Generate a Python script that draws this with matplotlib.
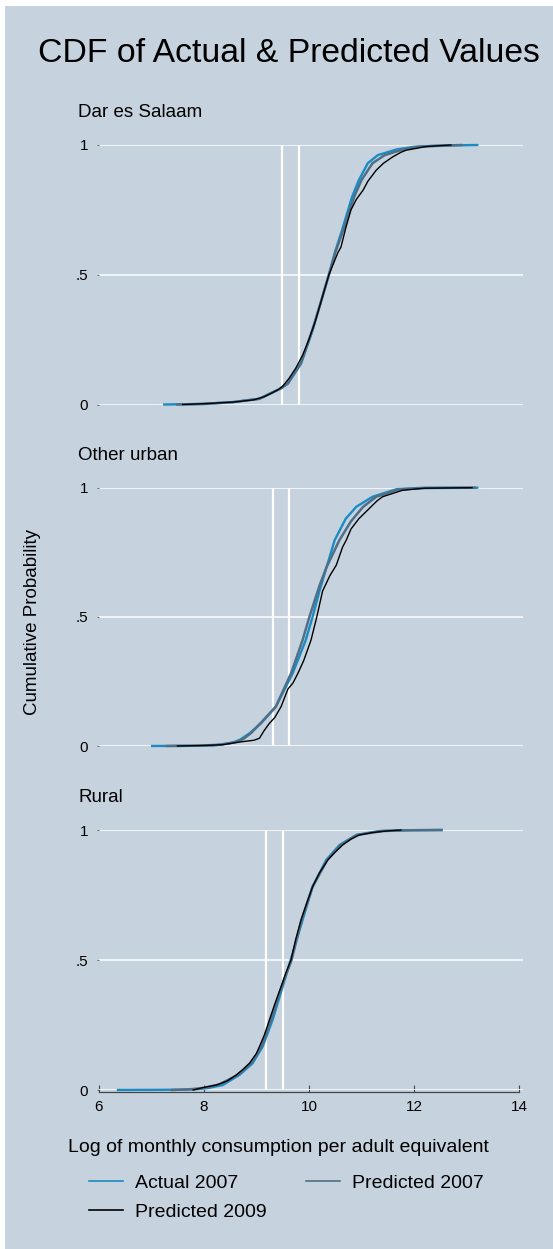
import matplotlib
matplotlib.use('Agg')
import matplotlib.pyplot as plt
from matplotlib.lines import Line2D
from matplotlib.patches import Rectangle

plt.rcParams['font.family'] = ['Liberation Sans', 'DejaVu Sans']

# region names and poverty lines (food, basic needs), log scale
regions = ['Dar es Salaam', 'Other urban', 'Rural']
pov_lines = [[9.49, 9.81], [9.31, 9.62], [9.19, 9.50]]

# CDF points: x = log consumption, y = cumulative probability
# Dar es Salaam
dar_act07_x = [7.25, 7.9, 8.55, 9.06, 9.25, 9.45, 9.6, 9.85, 10.07, 10.22, 10.38, 10.5, 10.63,
               10.82, 10.95, 11.12, 11.31, 11.67, 12.0, 12.5, 13.2]
dar_act07_y = [0, 0.002, 0.009, 0.022, 0.041, 0.06, 0.08, 0.157, 0.286, 0.39, 0.5, 0.59, 0.672,
               0.80, 0.865, 0.93, 0.961, 0.983, 0.993, 0.998, 1.0]
dar_pre07_x = [7.5, 8.0, 8.55, 9.06, 9.25, 9.45, 9.6, 9.85, 10.07, 10.22, 10.38, 10.5, 10.65,
               10.86, 11.0, 11.21, 11.44, 11.79, 12.1, 12.9]
dar_pre07_y = [0, 0.002, 0.009, 0.022, 0.041, 0.06, 0.082, 0.16, 0.29, 0.39, 0.5, 0.585, 0.67,
               0.80, 0.865, 0.93, 0.961, 0.983, 0.994, 1.0]
dar_pre09_x = [7.6, 8.1, 8.6, 8.95, 9.15, 9.3, 9.42, 9.5, 9.62, 9.75, 9.88, 10.0, 10.12, 10.25,
               10.38, 10.47, 10.55, 10.61, 10.7, 10.8, 10.9, 11.03, 11.12, 11.28, 11.42, 11.6,
               11.75, 11.85, 12.23, 12.7]
dar_pre09_y = [0, 0.004, 0.01, 0.018, 0.03, 0.045, 0.058, 0.07, 0.1, 0.14, 0.19, 0.25, 0.32, 0.41,
               0.5, 0.545, 0.585, 0.607, 0.68, 0.75, 0.79, 0.826, 0.86, 0.903, 0.93, 0.955,
               0.972, 0.98, 0.994, 1.0]

# Other urban
urb_act07_x = [7.02, 7.6, 8.17, 8.5, 8.68, 8.87, 9.09, 9.37, 9.69, 9.94, 10.07, 10.2, 10.3,
               10.49, 10.7, 10.9, 11.21, 11.66, 12.1, 13.2]
urb_act07_y = [0, 0.0005, 0.002, 0.01, 0.023, 0.049, 0.088, 0.152, 0.281, 0.41, 0.5, 0.6, 0.668,
               0.797, 0.88, 0.926, 0.965, 0.994, 0.999, 1.0]
urb_pre07_x = [7.3, 7.9, 8.3, 8.6, 8.75, 8.9, 9.08, 9.37, 9.66, 9.88, 10.01, 10.2, 10.33,
               10.58, 10.8, 11.03, 11.28, 11.7, 12.2, 13.15]
urb_pre07_y = [0, 0.001, 0.005, 0.015, 0.027, 0.05, 0.088, 0.152, 0.281, 0.41, 0.5, 0.62, 0.69,
               0.797, 0.87, 0.926, 0.965, 0.993, 0.999, 1.0]
urb_pre09_x = [7.5, 8.0, 8.36, 8.74, 8.95, 9.06, 9.15, 9.25, 9.35, 9.47, 9.6, 9.7, 9.79, 9.9,
               10.04, 10.15, 10.26, 10.4, 10.52, 10.64, 10.71, 10.8, 10.95, 11.05, 11.18, 11.3,
               11.4, 11.55, 11.78, 12.2, 13.1]
urb_pre09_y = [0, 0.002, 0.005, 0.017, 0.022, 0.03, 0.06, 0.088, 0.11, 0.152, 0.22, 0.245, 0.281,
               0.33, 0.41, 0.5, 0.6, 0.66, 0.7, 0.77, 0.797, 0.84, 0.88, 0.9, 0.926, 0.95,
               0.965, 0.975, 0.99, 0.998, 1.0]

# Rural
rur_act07_x = [6.37, 7.0, 7.5, 7.86, 8.1, 8.36, 8.68, 8.93, 9.12, 9.31, 9.5, 9.69, 9.88, 10.07,
               10.33, 10.58, 10.9, 11.34, 11.8, 12.52]
rur_act07_y = [0, 0.0005, 0.001, 0.003, 0.008, 0.019, 0.058, 0.103, 0.167, 0.27, 0.397, 0.526,
               0.654, 0.782, 0.885, 0.942, 0.981, 0.996, 0.999, 1.0]
rur_pre07_x = [7.4, 7.7, 8.0, 8.3, 8.65, 8.9, 9.1, 9.28, 9.48, 9.67, 9.86, 10.07, 10.35, 10.6,
               10.92, 11.4, 11.9, 12.52]
rur_pre07_y = [0, 0.002, 0.008, 0.022, 0.058, 0.103, 0.167, 0.27, 0.397, 0.5, 0.654, 0.782,
               0.885, 0.942, 0.981, 0.996, 0.999, 1.0]
rur_pre09_x = [7.8, 8.0, 8.24, 8.45, 8.62, 8.75, 8.87, 9.0, 9.06, 9.15, 9.25, 9.35, 9.47, 9.56,
               9.66, 9.75, 9.85, 9.96, 10.07, 10.2, 10.36, 10.5, 10.64, 10.8, 10.96, 11.2,
               11.47, 11.75]
rur_pre09_y = [0, 0.01, 0.019, 0.035, 0.058, 0.08, 0.103, 0.14, 0.167, 0.21, 0.27, 0.33, 0.397,
               0.45, 0.5, 0.58, 0.654, 0.72, 0.782, 0.835, 0.885, 0.915, 0.942, 0.965, 0.981,
               0.99, 0.996, 1.0]

series_labels = ['Actual 2007', 'Predicted 2007', 'Predicted 2009']
series_colors = ['#1a8cc3', '#4f6f88', '#000000']
series_widths = [1.7, 1.8, 1.0]

panel_data = [
    [(dar_act07_x, dar_act07_y), (dar_pre07_x, dar_pre07_y), (dar_pre09_x, dar_pre09_y)],
    [(urb_act07_x, urb_act07_y), (urb_pre07_x, urb_pre07_y), (urb_pre09_x, urb_pre09_y)],
    [(rur_act07_x, rur_act07_y), (rur_pre07_x, rur_pre07_y), (rur_pre09_x, rur_pre09_y)],
]

bg = '#c6d3df'
W, H = 553, 1249
fig = plt.figure(figsize=(W / 100, H / 100), dpi=100)
fig.patch.set_facecolor('white')
fig.patches.append(Rectangle((5 / W, 0), 1 - 5 / W, 1 - 6 / H, transform=fig.transFigure,
                             facecolor=bg, edgecolor='none', zorder=-10))

left = 98.5 / W
width = (523 - 98.5) / W
panel_tops = [145, 487.7, 830]     # pixel row of y=1
panel_bots = [404.5, 746, 1090]    # pixel row of y=0

for i, name in enumerate(regions):
    b = 1 - panel_bots[i] / H
    h = (panel_bots[i] - panel_tops[i]) / H
    ax = fig.add_axes([left, b, width, h])
    ax.set_facecolor('none')
    ax.set_xlim(6, 14.07)
    ax.set_ylim(0, 1)
    for s in ['left', 'right', 'top', 'bottom']:
        ax.spines[s].set_visible(False)
    ax.set_yticks([0, 0.5, 1])
    ax.set_yticklabels(['0', '.5', '1'])
    ax.tick_params(axis='y', length=1.5, width=0.6, color='#555555', pad=6, labelsize=11)
    ax.grid(axis='y', color='white', lw=1.1, zorder=0)
    ax.set_axisbelow(True)
    ax.vlines(pov_lines[i], 0, 1, colors='white', lw=1.6, zorder=1)

    for (xs, ys), c, lw in zip(panel_data[i], series_colors, series_widths):
        ax.plot(xs, ys, color=c, lw=lw, zorder=3, clip_on=False)

    fig.text(78 / W, 1 - (panel_tops[i] - 32.7) / H, name, fontsize=13.5, ha='left', va='center')

    if i == 2:
        ax.spines['bottom'].set_visible(True)
        ax.spines['bottom'].set_color('#444444')
        ax.spines['bottom'].set_linewidth(0.9)
        ax.spines['bottom'].set_position(('outward', 1.5))
        ax.spines['bottom'].set_bounds(6, 14)
        ax.set_xticks([6, 8, 10, 12, 14])
        ax.tick_params(axis='x', direction='in', length=5, width=0.8, color='#444444',
                       pad=6, labelsize=11)
    else:
        ax.set_xticks([])

fig.text(289 / W, 1 - 53 / H, 'CDF of Actual & Predicted Values', fontsize=24.3, ha='center', va='center')
fig.text(33 / W, 1 - 622 / H, 'Cumulative Probability', fontsize=13.5, rotation=90,
         ha='center', va='center')
fig.text(278.5 / W, 1 - 1148 / H, 'Log of monthly consumption per adult equivalent',
         fontsize=14, ha='center', va='center')

handles = [Line2D([], [], color=c, lw=1.2) for c in series_colors]
# matplotlib fills legend columns first, so reorder to get Stata's row-wise order
order = [0, 2, 1]
fig.legend([handles[k] for k in order], [series_labels[k] for k in order], ncol=2,
           loc='upper left', bbox_to_anchor=(89 / W, 1 - 1174 / H), frameon=False,
           fontsize=14, handlelength=1.75, handletextpad=0.6, columnspacing=2.05,
           labelspacing=0.62, borderpad=0, borderaxespad=0)

fig.savefig('out.png', dpi=100, facecolor=fig.get_facecolor())
